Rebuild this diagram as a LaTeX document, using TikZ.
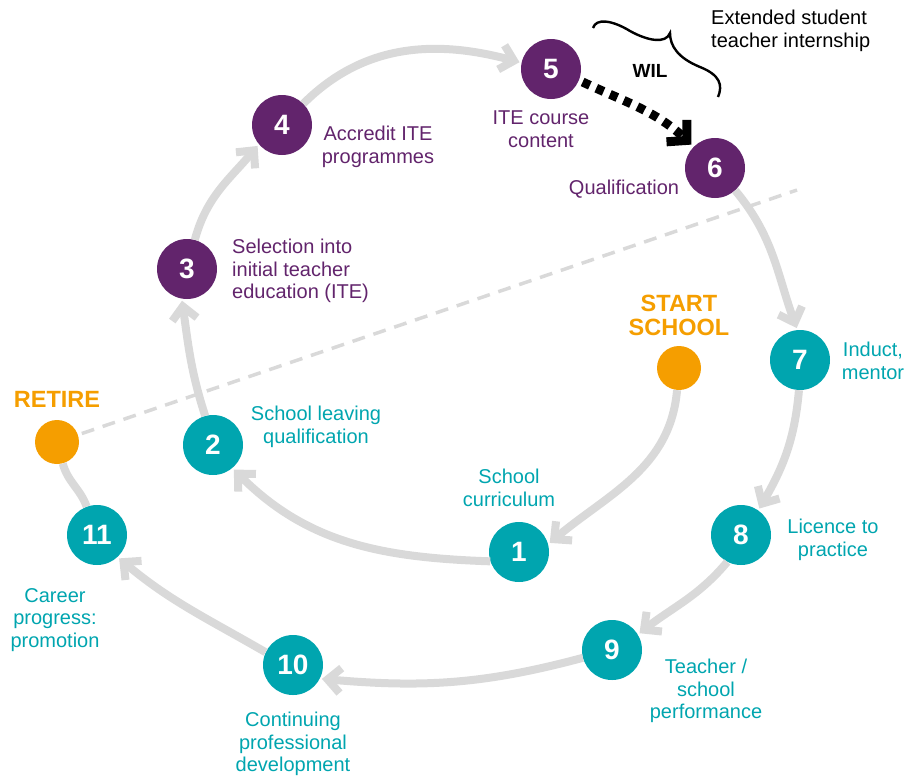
\documentclass[tikz,border=0pt]{standalone}
\usepackage{fontspec}
\setmainfont{Liberation Sans}
\usetikzlibrary{arrows.meta, positioning}

\definecolor{itepurple}{HTML}{62246C}
\definecolor{jobteal}{HTML}{00A5AF}
\definecolor{endorange}{HTML}{F59E00}
\definecolor{flowgrey}{HTML}{D9D9D9}

\begin{document}
\begin{tikzpicture}[x=1pt, y=1pt]
	\tikzset{
		stage/.style={circle, minimum size=60pt, inner sep=0pt, text=white, font=\fontsize{28}{30}\selectfont\bfseries},
		itenode/.style={stage, fill=itepurple},
		jobnode/.style={stage, fill=jobteal},
		endnode/.style={circle, minimum size=44pt, inner sep=0pt, fill=endorange},
		lbl/.style={align=center, inner sep=0pt, font=\fontsize{20}{22.5}\selectfont},
		itelbl/.style={lbl, text=itepurple},
		joblbl/.style={lbl, text=jobteal},
		endlbl/.style={align=center, inner sep=0pt, text=endorange, font=\fontsize{23.5}{24}\selectfont\bfseries},
		flowline/.style={draw=flowgrey, line width=8pt},
		flow/.style={flowline, -{Straight Barb[length=13pt, width=25pt]}, shorten >=2pt},
		dashline/.style={draw=flowgrey, line width=3.5pt, dash pattern=on 13pt off 9pt},
	}
	\useasboundingbox (0,0) rectangle (907,-777);

	% orange end points
	\node[endnode] (start) at (679,-368) {};
	\node[endlbl, above=10pt of start] (startlbl) {START\\SCHOOL};
	\node[endnode] (retire) at (57,-442) {};
	\node[endlbl, above=12pt of retire] (retirelbl) {RETIRE};

	% teacher education stages
	\node[itenode] (n3) at (187,-269) {3};
	\node[itenode] (n4) at (282,-125) {4};
	\node[itenode] (n5) at (551,-69) {5};
	\node[itenode] (n6) at (715,-168) {6};

	% school and career stages
	\node[jobnode] (n1) at (519,-552) {1};
	\node[jobnode] (n2) at (213,-445) {2};
	\node[jobnode] (n7) at (800,-360) {7};
	\node[jobnode] (n8) at (741,-535) {8};
	\node[jobnode] (n9) at (612,-650) {9};
	\node[jobnode] (n10) at (293,-665) {10};
	\node[jobnode] (n11) at (97,-535) {11};

	\node[itelbl, align=left, anchor=west] (l3) at (232,-271) {Selection into\\initial teacher\\education (ITE)};
	\node[itelbl] (l4) at (378,-147) {Accredit ITE\\programmes};
	\node[itelbl] (l5) at (541,-129) {ITE course\\content};
	\node[itelbl] (l6) at (624,-189) {Qualification};

	\node[joblbl] (l1) at (509,-488) {School\\curriculum};
	\node[joblbl] (l2) at (316,-427) {School leaving\\qualification};
	\node[joblbl] (l7) at (873,-361) {Induct,\\mentor};
	\node[joblbl] (l8) at (833,-540) {Licence to\\practice};
	\node[joblbl] (l9) at (706,-691) {Teacher /\\school\\performance};
	\node[joblbl] (l10) at (293,-744) {Continuing\\professional\\development};
	\node[joblbl] (l11) at (55,-620) {Career\\progress:\\promotion};

	% dividing line
	\coordinate (dashend) at (797,-190);
	\draw[dashline, shorten <=4pt] (retire) -- (dashend);

	% the cycle
	\draw[flow] (start) to[out=-95, in=40] (n1.15);
	\draw[flow] (n1.198) to[out=178, in=-45] (n2.-50);
	\draw[flow] (n2.105) to[out=108, in=-82] (n3.-100);
	\draw[flow] (n3.75) to[out=75, in=-130] (n4.-140);
	\draw[flow] (n4.45) to[out=45, in=165] (n5.168);
	\draw[flow] (n6.-48) to[out=-50, in=110] (n7.95);
	\draw[flow] (n7.-92) to[out=-95, in=60] (n8.55);
	\draw[flow] (n8.-117) to[out=-130, in=38] (n9.31);
	\draw[flow] (n9.195) to[out=195, in=-5] (n10.-27);
	\draw[flow] (n10.155) to[out=150, in=-40] (n11.-47);
	\draw[flowline] (n11.110) to[out=110, in=-75] (retire);

	% work integrated learning
	\draw[line width=9pt, dash pattern=on 8pt off 7pt, -{Straight Barb[length=14pt, width=30pt]}, shorten <=4pt, shorten >=3pt] (n5.-22) to[out=-25, in=137] (n6.135);
	\node[font=\fontsize{19}{20}\selectfont\bfseries, inner sep=0pt] (wil) at (650,-71) {WIL};
	\coordinate (bracea) at (593,-28);
	\coordinate (bracetip) at (670,-33);
	\coordinate (braceb) at (718,-97);
	\draw[line width=2.4pt] (bracea) .. controls (596,-18) and (612,-20) .. (630,-31)
		.. controls (648,-41) and (666,-44) .. (bracetip)
		.. controls (670,-46) and (678,-58) .. (700,-67)
		.. controls (720,-75) and (723,-85) .. (braceb);
	\node[lbl, align=left, anchor=west] (intern) at (711,-31) {Extended student\\teacher internship};
\end{tikzpicture}
\end{document}
